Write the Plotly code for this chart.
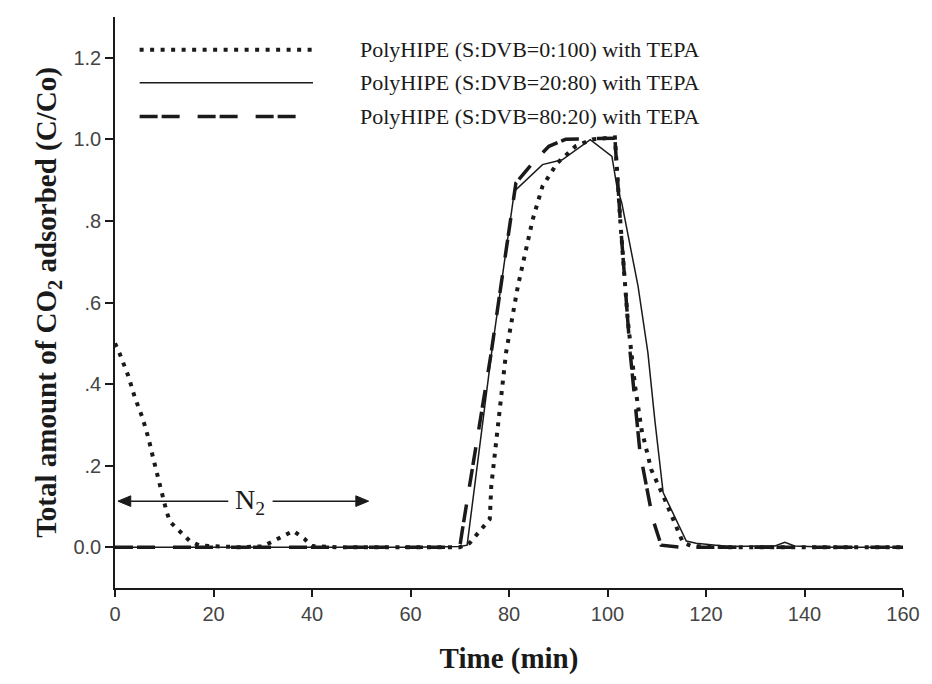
import plotly.graph_objects as go

# ---- data ----
dot_x = [0, 1.0, 2.7, 4.0, 5.6, 6.8, 7.8, 8.9, 9.9, 10.5, 11.2, 13.2, 15.2, 17.2, 20, 25, 30,
         31.8, 34.0, 36.2, 38.4, 40, 45, 50, 60, 70, 72, 74.1, 76.1, 76.4, 77.8, 79.4, 81.8,
         84.8, 86.8, 89.8, 93.5, 96.9, 101.5, 102.6, 104.1, 105.6, 106.9, 108.9, 111.6,
         113.6, 115.3, 117, 125, 140, 160]
dot_y = [0.50, 0.473, 0.42, 0.368, 0.317, 0.267, 0.216, 0.164, 0.111, 0.086, 0.062, 0.038,
         0.015, 0.004, 0.002, 0.0, 0.002, 0.013, 0.029, 0.040, 0.021, 0.003, 0.0, 0.0, 0.0,
         0.0, 0.01, 0.04, 0.069, 0.150, 0.313, 0.477, 0.640, 0.803, 0.885, 0.942, 0.983,
         1.0, 1.005, 0.80, 0.558, 0.395, 0.289, 0.19, 0.118, 0.06, 0.012, 0.003, 0.0, 0.0, 0.0]

sol_x = [0, 10, 20, 30, 40, 50, 60, 70, 71.5, 76.5, 81.1, 86.8, 90.8, 96.5, 100.9, 101.9,
         102.9, 106.2, 108.2, 109.6, 111.3, 116.0, 118, 122, 125, 134, 136, 138, 145, 160]
sol_y = [0, 0, 0, 0, 0, 0, 0, 0.002, 0.005, 0.48, 0.873, 0.938, 0.950, 0.999, 0.958, 0.885,
         0.844, 0.640, 0.477, 0.313, 0.134, 0.015, 0.010, 0.005, 0.002, 0.003, 0.012, 0.003,
         0.0, 0.0]

dash_x = [0, 10, 20, 30, 40, 50, 60, 70, 70.5, 76.3, 81.4, 84.8, 88.1, 91.5, 101.5, 102.6,
          104.6, 106.6, 109.2, 110.9, 115, 120, 140, 160]
dash_y = [0, 0, 0, 0, 0, 0, 0, 0.0, 0.04, 0.47, 0.893, 0.942, 0.983, 1.0, 1.003, 0.80,
          0.477, 0.232, 0.069, 0.005, 0.0, 0.0, 0.0, 0.0]

names = ["PolyHIPE (S:DVB=0:100) with TEPA",
         "PolyHIPE (S:DVB=20:80) with TEPA",
         "PolyHIPE (S:DVB=80:20) with TEPA"]

x_ticks = [0, 20, 40, 60, 80, 100, 120, 140, 160]
y_ticks = [0.0, 0.2, 0.4, 0.6, 0.8, 1.0, 1.2]
y_ticktext = ["0.0", ".2", ".4", ".6", ".8", "1.0", "1.2"]

# N2 arrow span (data units)
n2_y = 0.113
n2_left, n2_right = 0.6, 51.5
n2_gap_l, n2_gap_r = 23.0, 32.0

# ---- styles ----
INK = "#1a1a1a"
DOT = dict(color=INK, width=4, dash="4px,6.5px")
SOL = dict(color=INK, width=1.5)
DSH = dict(color=INK, width=3.5, dash="18px,4px,18px,18px")
SERIF = "Liberation Serif, Times New Roman, serif"
SANS = "Liberation Sans, Arial, sans-serif"

fig = go.Figure()
fig.add_trace(go.Scatter(x=dot_x, y=dot_y, mode="lines", line=DOT, name=names[0]))
fig.add_trace(go.Scatter(x=sol_x, y=sol_y, mode="lines", line=SOL, name=names[1]))
fig.add_trace(go.Scatter(x=dash_x, y=dash_y, mode="lines", line=DSH, name=names[2]))

# manual legend (line samples + labels)
leg_rows = [1.22, 1.139, 1.056]
for ln, nm, yy in zip([DOT, SOL, DSH], names, leg_rows):
    fig.add_shape(type="line", xref="x", yref="y", x0=5.0, x1=40.2, y0=yy, y1=yy,
                  line=ln)
    fig.add_annotation(x=49.3, y=yy, xref="x", yref="y", text=nm, showarrow=False,
                       xanchor="left", yanchor="middle",
                       font=dict(family=SERIF, size=22, color=INK))

# N2 arrows drawn as shapes
ah_len, ah_half = 2.6, 0.013
fig.add_shape(type="line", xref="x", yref="y", x0=n2_left + ah_len, x1=n2_gap_l,
              y0=n2_y, y1=n2_y, line=dict(color=INK, width=1.5))
fig.add_shape(type="line", xref="x", yref="y", x0=n2_gap_r, x1=n2_right - ah_len,
              y0=n2_y, y1=n2_y, line=dict(color=INK, width=1.5))
fig.add_shape(type="path", xref="x", yref="y",
              path=f"M {n2_left},{n2_y} L {n2_left + ah_len},{n2_y + ah_half} "
                   f"L {n2_left + ah_len},{n2_y - ah_half} Z",
              fillcolor=INK, line=dict(color=INK, width=1))
fig.add_shape(type="path", xref="x", yref="y",
              path=f"M {n2_right},{n2_y} L {n2_right - ah_len},{n2_y + ah_half} "
                   f"L {n2_right - ah_len},{n2_y - ah_half} Z",
              fillcolor=INK, line=dict(color=INK, width=1))
fig.add_annotation(x=(n2_gap_l + n2_gap_r) / 2, y=n2_y, xref="x", yref="y",
                   text="N<sub>2</sub>", showarrow=False,
                   font=dict(family=SERIF, size=28, color=INK))

fig.update_layout(
    width=932, height=684,
    margin=dict(l=115, r=21, t=17, b=96),
    paper_bgcolor="white", plot_bgcolor="white",
    showlegend=False,
    xaxis=dict(range=[0, 160], tickvals=x_ticks, showgrid=False, zeroline=False,
               showline=True, linecolor=INK, linewidth=1.5, ticks="outside",
               ticklen=7, tickwidth=1.5, tickcolor=INK,
               tickfont=dict(family=SANS, size=20, color="#444"),
               title=dict(text="<b>Time (min)</b>", standoff=24,
                          font=dict(family=SERIF, size=29, color=INK))),
    yaxis=dict(range=[-0.1, 1.3], tickvals=y_ticks, ticktext=y_ticktext,
               showgrid=False, zeroline=False,
               showline=True, linecolor=INK, linewidth=1.5, ticks="outside",
               ticklen=8, tickwidth=1.5, tickcolor=INK,
               tickfont=dict(family=SANS, size=20, color="#444"),
               title=dict(text="<b>Total amount of CO<sub>2</sub> adsorbed (C/Co)</b>",
                          standoff=8, font=dict(family=SERIF, size=29, color=INK))),
)

fig.write_html("out.html")
